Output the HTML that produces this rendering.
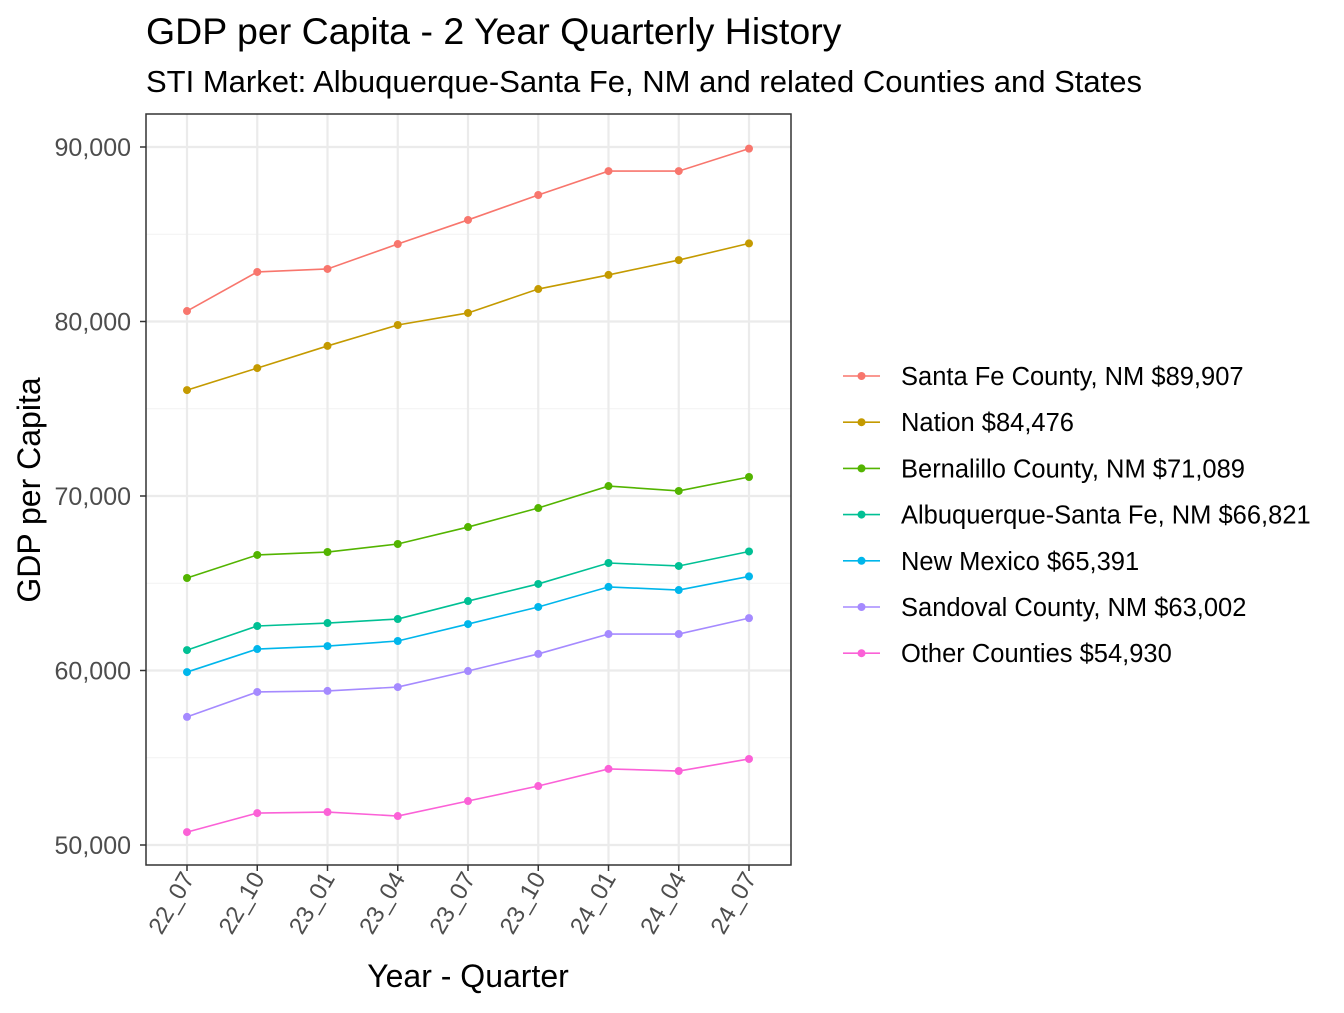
<!DOCTYPE html>
<html><head><meta charset="utf-8"><style>
body{margin:0;background:#fff;font-family:"Liberation Sans",Arial,sans-serif}
</style></head><body>
<svg id="chart" width="1344" height="1008" xmlns="http://www.w3.org/2000/svg" font-family="Liberation Sans, Arial, sans-serif">
<rect width="1344" height="1008" fill="#fff"/>
<text x="146" y="44" font-size="37.5" fill="#000">GDP per Capita - 2 Year Quarterly History</text>
<text x="146" y="92" font-size="31" fill="#000">STI Market: Albuquerque-Santa Fe, NM and related Counties and States</text>
<g id="grid"></g><g id="series"></g><g id="axes"></g><g id="legend"></g>
<rect x="146" y="114" width="645" height="751" fill="none" stroke="#333" stroke-width="1.5"/>
<text transform="translate(40,490) rotate(-90)" text-anchor="middle" font-size="32" fill="#000">GDP per Capita</text>
<text x="468" y="987" text-anchor="middle" font-size="32" fill="#000">Year - Quarter</text>
</svg>
<script>
const categories=["22_07","22_10","23_01","23_04","23_07","23_10","24_01","24_04","24_07"];
const seriesNames=["Santa Fe County, NM $89,907","Nation $84,476","Bernalillo County, NM $71,089","Albuquerque-Santa Fe, NM $66,821","New Mexico $65,391","Sandoval County, NM $63,002","Other Counties $54,930"];
const santaFe=[80600,82840,83010,84440,85820,87250,88620,88620,89907];
const nation=[76070,77330,78600,79800,80490,81860,82670,83520,84476];
const bernalillo=[65300,66620,66790,67250,68220,69310,70570,70290,71089];
const abq=[61170,62550,62720,62950,63980,64960,66160,65990,66821];
const newMexico=[59910,61230,61400,61690,62660,63640,64790,64610,65391];
const sandoval=[57340,58770,58830,59050,59970,60950,62090,62090,63002];
const other=[50740,51830,51890,51660,52520,53380,54360,54240,54930];
const yTicks=[50000,60000,70000,80000,90000];
const yMinor=[55000,65000,75000,85000];
const colors=["#F8766D","#C49A00","#53B400","#00C094","#00B6EB","#A58AFF","#FB61D7"];
const allSeries=[santaFe,nation,bernalillo,abq,newMexico,sandoval,other];
const NS="http://www.w3.org/2000/svg";
const x=i=>187+i*(749-187)/(categories.length-1);
const y=v=>845-(v-50000)*(845-147)/40000;
function mk(tag,attrs,parent){const e=document.createElementNS(NS,tag);for(const k in attrs)e.setAttribute(k,attrs[k]);parent.appendChild(e);return e;}
const grid=document.getElementById('grid'),ser=document.getElementById('series'),axes=document.getElementById('axes'),leg=document.getElementById('legend');
yMinor.forEach(v=>{const l=mk('line',{x1:146,x2:791,y1:y(v),y2:y(v),stroke:'#f2f2f2','stroke-width':1},grid);

});
yTicks.forEach(v=>{const l=mk('line',{x1:146,x2:791,y1:y(v),y2:y(v),stroke:'#ebebeb','stroke-width':2.2},grid);


const t=mk('line',{x1:140,x2:146,y1:y(v),y2:y(v),stroke:'#333','stroke-width':1.5},axes);


const tx=mk('text',{x:131,y:y(v)+9,'text-anchor':'end','font-size':25,fill:'#4d4d4d'},axes);
tx.textContent=v.toLocaleString('en-US');

});
categories.forEach((c,i)=>{const l=mk('line',{x1:x(i),x2:x(i),y1:114,y2:865,stroke:'#ebebeb','stroke-width':2.2},grid);


const t=mk('line',{x1:x(i),x2:x(i),y1:865,y2:871,stroke:'#333','stroke-width':1.5},axes);


const tx=mk('text',{transform:`translate(${x(i)+8},${878}) rotate(-60)`,'text-anchor':'end','font-size':24,fill:'#4d4d4d'},axes);
tx.textContent=c;

});
allSeries.forEach((s,k)=>{const p=mk('polyline',{points:s.map((v,i)=>x(i)+','+y(v)).join(' '),fill:'none',stroke:colors[k],'stroke-width':1.6},ser);


s.forEach((v,i)=>{const c=mk('circle',{cx:x(i),cy:y(v),r:4,fill:colors[k]},ser);

});
const ly=376+k*46.2;
const g=mk('g',{},leg);


mk('line',{x1:843,x2:880,y1:ly,y2:ly,stroke:colors[k],'stroke-width':1.6},g);
mk('circle',{cx:861.5,cy:ly,r:4,fill:colors[k]},g);
const t=mk('text',{x:901,y:ly+9,'font-size':25.5,fill:'#000'},g);
t.textContent=seriesNames[k];});
</script>
</body></html>
